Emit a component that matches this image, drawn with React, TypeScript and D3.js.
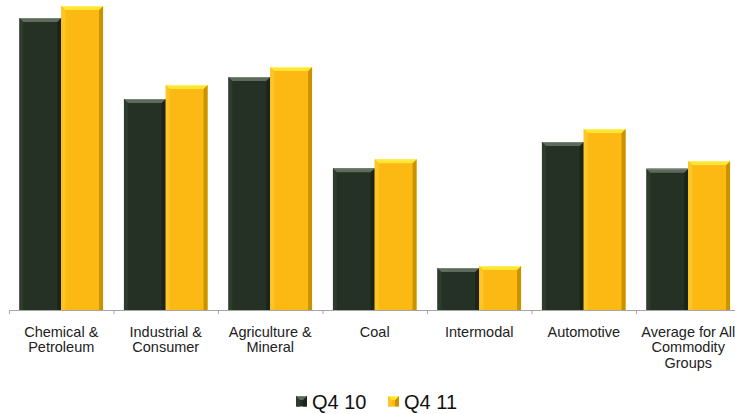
import React from "react";
import * as d3 from "d3";

const categories = [
  "Chemical & Petroleum",
  "Industrial & Consumer",
  "Agriculture & Mineral",
  "Coal",
  "Intermodal",
  "Automotive",
  "Average for All Commodity Groups",
];
const categoryLines = [
  ["Chemical &", "Petroleum"],
  ["Industrial &", "Consumer"],
  ["Agriculture &", "Mineral"],
  ["Coal"],
  ["Intermodal"],
  ["Automotive"],
  ["Average for All", "Commodity", "Groups"],
];
const seriesNames = ["Q4 10", "Q4 11"];
const q4_10 = [2920, 2110, 2330, 1417, 420, 1680, 1413];
const q4_11 = [3040, 2250, 2430, 1507, 440, 1810, 1490];

const W = 735;
const H = 414;
const baseY = 310;

const palette = {
  "Q4 10": { fill: "#243124", top: "#5d6b5c", topHi: "#778676", left: "#2e3c2e", right: "#1a241a" },
  "Q4 11": { fill: "#fdb913", top: "#ffe534", topHi: "#fff35a", left: "#fec526", right: "#c99300" },
};

function Bar({ x, y, w, h, name }: { x: number; y: number; w: number; h: number; name: string }) {
  const c = (palette as any)[name];
  const b = Math.min(4, h / 2);
  const x1 = x + w;
  const y1 = y + h;
  return (
    <g>
      <rect x={x} y={y} width={w} height={h} fill={c.fill} />
      <polygon points={`${x},${y} ${x + b},${y + b} ${x + b},${y1} ${x},${y1}`} fill={c.left} />
      <polygon points={`${x1},${y} ${x1 - b},${y + b} ${x1 - b},${y1} ${x1},${y1}`} fill={c.right} />
      <polygon points={`${x},${y} ${x1},${y} ${x1 - b},${y + b} ${x + b},${y + b}`} fill={c.top} />
      <line x1={x + 1} x2={x1 - 1} y1={y + 0.5} y2={y + 0.5} stroke={c.topHi} strokeWidth={1} />
    </g>
  );
}

export default function App() {
  const x0 = d3.scaleBand<string>().domain(categories).range([9, 740.5]).paddingInner(0).paddingOuter(0);
  const x1 = d3
    .scaleBand<string>()
    .domain(seriesNames)
    .range([0, x0.bandwidth()])
    .paddingInner(0)
    .paddingOuter(0.25);
  const y = d3.scaleLinear().domain([0, 3100]).range([baseY, 0]);
  const seriesData: Record<string, number[]> = { "Q4 10": q4_10, "Q4 11": q4_11 };

  const ticks = categories.map((c) => x0(c)!).concat([x0.range()[1]]);

  return (
    <svg
      width={W}
      height={H}
      style={{ position: "absolute", left: 0, top: 0, background: "#fff" }}
      fontFamily="'Liberation Sans', Arial, sans-serif"
    >
      {categories.map((cat, i) =>
        seriesNames.map((s) => {
          const v = seriesData[s][i];
          const bx = x0(cat)! + x1(s)!;
          return <Bar key={cat + s} x={bx} y={y(v)} w={x1.bandwidth()} h={baseY - y(v)} name={s} />;
        })
      )}
      <line x1={9} x2={W} y1={baseY + 0.5} y2={baseY + 0.5} stroke="#a6a6a6" strokeWidth={1} />
      {ticks.map((t, i) => (
        <line key={i} x1={t + 0.5} x2={t + 0.5} y1={baseY} y2={baseY + 4} stroke="#a6a6a6" strokeWidth={1} />
      ))}
      {categories.map((cat, i) => (
        <text key={cat} x={x0(cat)! + x0.bandwidth() / 2} textAnchor="middle" fontSize={14.5} fill="#222">
          {categoryLines[i].map((ln, j) => (
            <tspan key={j} x={x0(cat)! + x0.bandwidth() / 2} y={336.5 + j * 15.7}>
              {ln}
            </tspan>
          ))}
        </text>
      ))}
      {/* legend */}
      <g>
        <Bar x={296} y={396} w={11} h={10.5} name="Q4 10" />
        <text x={312} y={409} fontSize={20} fill="#111">
          Q4 10
        </text>
        <Bar x={388} y={396} w={11} h={10.5} name="Q4 11" />
        <text x={404} y={409} fontSize={20} fill="#111">
          Q4 11
        </text>
      </g>
    </svg>
  );
}
